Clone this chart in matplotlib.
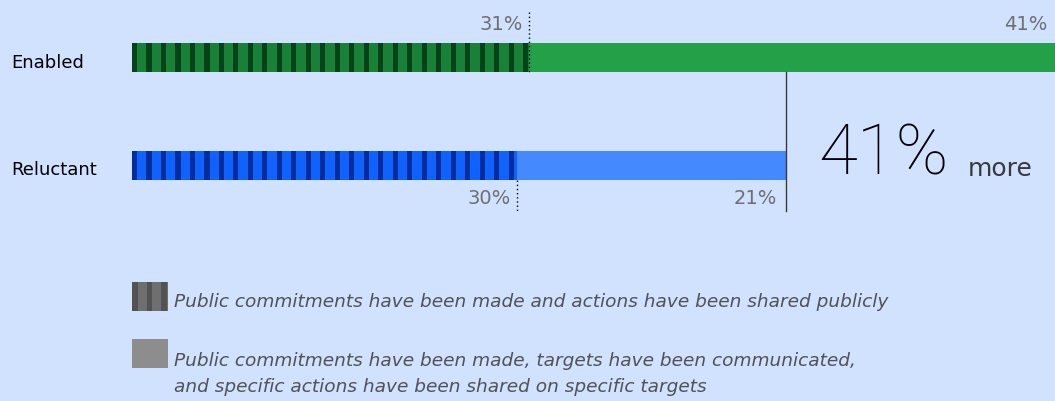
import matplotlib

matplotlib.use("Agg")
import matplotlib.pyplot as plt
import numpy as np

CATEGORIES = ["Enabled", "Reluctant"]
SHARED_PUBLICLY = [31, 30]      # striped segment (%)
SPECIFIC_TARGETS = [41, 21]     # solid segment (%)
LEGEND_LABELS = [
    "Public commitments have been made and actions have been shared publicly",
    "Public commitments have been made, targets have been communicated,\n"
    "and specific actions have been shared on specific targets",
]

BG = "#d0e2ff"
BASE_COLORS = ["#198038", "#0f62fe"]
STRIPE_COLORS = ["#044317", "#002d9c"]
SOLID_COLORS = ["#24a148", "#4589ff"]
TEXT_GRAY = "#6f6f6f"

# layout in pixel-ish units (y axis = pixels from top)
Y_CENTERS = [57.5, 165.2]
BAR_H = 29
STRIPE_PERIOD = 1.1296
STRIPE_W = 0.40


def main() -> None:
    fig = plt.figure(figsize=(10.55, 4.01), dpi=100, facecolor=BG)
    ax = fig.add_axes([0, 0, 1, 1])
    ax.set_facecolor(BG)
    px = 923 / 72.0
    ax.set_xlim(-132 / px, 72)
    ax.set_ylim(401, 0)
    ax.axis("off")

    for i, cat in enumerate(CATEGORIES):
        y = Y_CENTERS[i]
        a, b = SHARED_PUBLICLY[i], SPECIFIC_TARGETS[i]
        ax.barh(y, a, height=BAR_H, left=0, color=BASE_COLORS[i], lw=0)
        starts = np.arange(0, a, STRIPE_PERIOD)
        widths = np.minimum(STRIPE_W, a - starts)
        ax.barh([y] * len(starts), widths, height=BAR_H, left=starts,
                color=STRIPE_COLORS[i], lw=0)
        ax.barh(y, b, height=BAR_H, left=a, color=SOLID_COLORS[i], lw=0)
        ax.text(-121 / px, y + 5, cat, fontsize=13, color="black", va="center", ha="left")

    # Enabled annotations (above)
    y0 = Y_CENTERS[0]
    ax.plot([SHARED_PUBLICLY[0]] * 2, [12, y0 + BAR_H / 2], ls=(0, (1, 2)), color="black", lw=1)
    ax.text(SHARED_PUBLICLY[0] - 7 / px, 24, f"{SHARED_PUBLICLY[0]}%", fontsize=14,
            color=TEXT_GRAY, ha="right", va="center")
    ax.text(72 - 8 / px, 24, f"{SPECIFIC_TARGETS[0]}%", fontsize=14,
            color=TEXT_GRAY, ha="right", va="center")

    # Reluctant annotations (below)
    y1 = Y_CENTERS[1]
    ax.plot([SHARED_PUBLICLY[1]] * 2, [y1 + BAR_H / 2, 211], ls=(0, (1, 2)), color="black", lw=1)
    ax.text(SHARED_PUBLICLY[1] - 6 / px, 198, f"{SHARED_PUBLICLY[1]}%", fontsize=14,
            color=TEXT_GRAY, ha="right", va="center")
    total_rel = SHARED_PUBLICLY[1] + SPECIFIC_TARGETS[1]
    total_en = SHARED_PUBLICLY[0] + SPECIFIC_TARGETS[0]
    ax.text(total_rel - 9 / px, 198, f"{SPECIFIC_TARGETS[1]}%", fontsize=14,
            color=TEXT_GRAY, ha="right", va="center")
    ax.plot([total_rel] * 2, [y0 + BAR_H / 2, 211], color="#393939", lw=1)

    more = round((total_en / total_rel - 1) * 100)
    ax.text(total_rel + 32 / px, 155, f"{more}%", fontsize=51, fontfamily="Roboto",
            fontweight="light", color="black", ha="left", va="center")
    ax.text(total_rel + 182 / px, 169, "more", fontsize=18, color="#393939",
            ha="left", va="center")

    # legend
    sw = 36 / px
    ax.barh(296.5, sw, height=29, left=0, color="#6f6f6f", lw=0)
    ax.barh([296.5] * 3, [5.5 / px] * 3, height=29, left=np.array([0, 14.5, 29]) / px,
            color="#525252", lw=0)
    ax.barh(353.5, sw, height=29, left=0, color="#8d8d8d", lw=0)
    ax.text(42 / px, 302, LEGEND_LABELS[0], fontsize=13.3, style="italic",
            color="#525252", ha="left", va="center")
    ax.text(42 / px, 374, LEGEND_LABELS[1], fontsize=13.3, style="italic",
            color="#525252", ha="left", va="center", linespacing=1.6)

    fig.savefig("out.png", dpi=100, facecolor=BG)
    plt.close(fig)


if __name__ == "__main__":
    main()
